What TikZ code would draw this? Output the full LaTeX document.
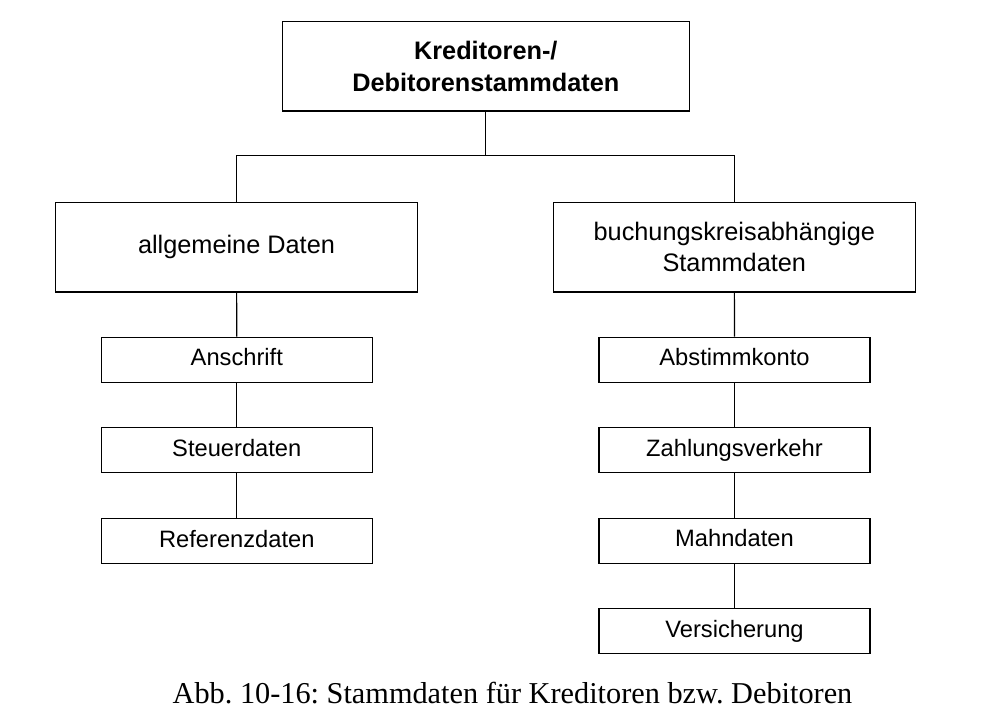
\documentclass[tikz,border=0pt]{standalone}
\usepackage{fontspec}
\setmainfont{Liberation Sans}
\newfontfamily\capfont{Liberation Serif}
\frenchspacing
\begin{document}
\begin{tikzpicture}[x=1pt,y=-1pt,
  box/.style={draw=black, line width=1.2pt, inner sep=0pt, align=center},
  bigbox/.style={box, font=\fontsize{25.3}{31}\selectfont},
  smallbox/.style={box, minimum width=271pt, minimum height=45pt, font=\fontsize{23.7}{29}\selectfont, text height=17pt, text depth=5pt},
  conn/.style={draw=black, line width=1.2pt}]
\useasboundingbox (0,0) rectangle (983,725);
\node[bigbox, minimum width=407pt, minimum height=89.3pt, font=\bfseries\fontsize{25.3}{31.5}\selectfont] (top) at (485.8,66.4) {Kreditoren-/\\Debitorenstammdaten};
\node[bigbox, minimum width=362.4pt, minimum height=89.3pt, text height=18.2pt, text depth=5.3pt] (lm) at (236.5,247.3) {allgemeine Daten};
\node[bigbox, minimum width=362pt, minimum height=89.3pt] (rm) at (734.3,247.3) {buchungskreisabhängige\\Stammdaten};
\coordinate (j) at (485.8,155.7);
\draw[conn] (top) -- (j);
\draw[conn] (lm.north) |- (j) -| (rm.north);
% left column
\node[smallbox] (l1) at (236.8,359.8) {Anschrift};
\node[smallbox] (l2) at (236.8,450.3) {Steuerdaten};
\node[smallbox] (l3) at (236.8,541) {Referenzdaten};
\draw[conn] (lm) -- (l1);
\draw[conn] (l1) -- (l2);
\draw[conn] (l2) -- (l3);
% right column
\node[smallbox] (r1) at (734.5,359.8) {Abstimmkonto};
\node[smallbox] (r2) at (734.5,450.3) {Zahlungsverkehr};
\node[smallbox] (r3) at (734.5,540.8) {Mahndaten};
\node[smallbox] (r4) at (734.5,631.2) {Versicherung};
\draw[conn] (rm) -- (r1);
\draw[conn] (r1) -- (r2);
\draw[conn] (r2) -- (r3);
\draw[conn] (r3) -- (r4);
% caption
\node[anchor=base, inner sep=0pt, font=\capfont\fontsize{30.3}{36}\selectfont] (cap) at (512.5,703) {Abb. 10-16: Stammdaten für Kreditoren bzw. Debitoren};
\end{tikzpicture}
\end{document}
